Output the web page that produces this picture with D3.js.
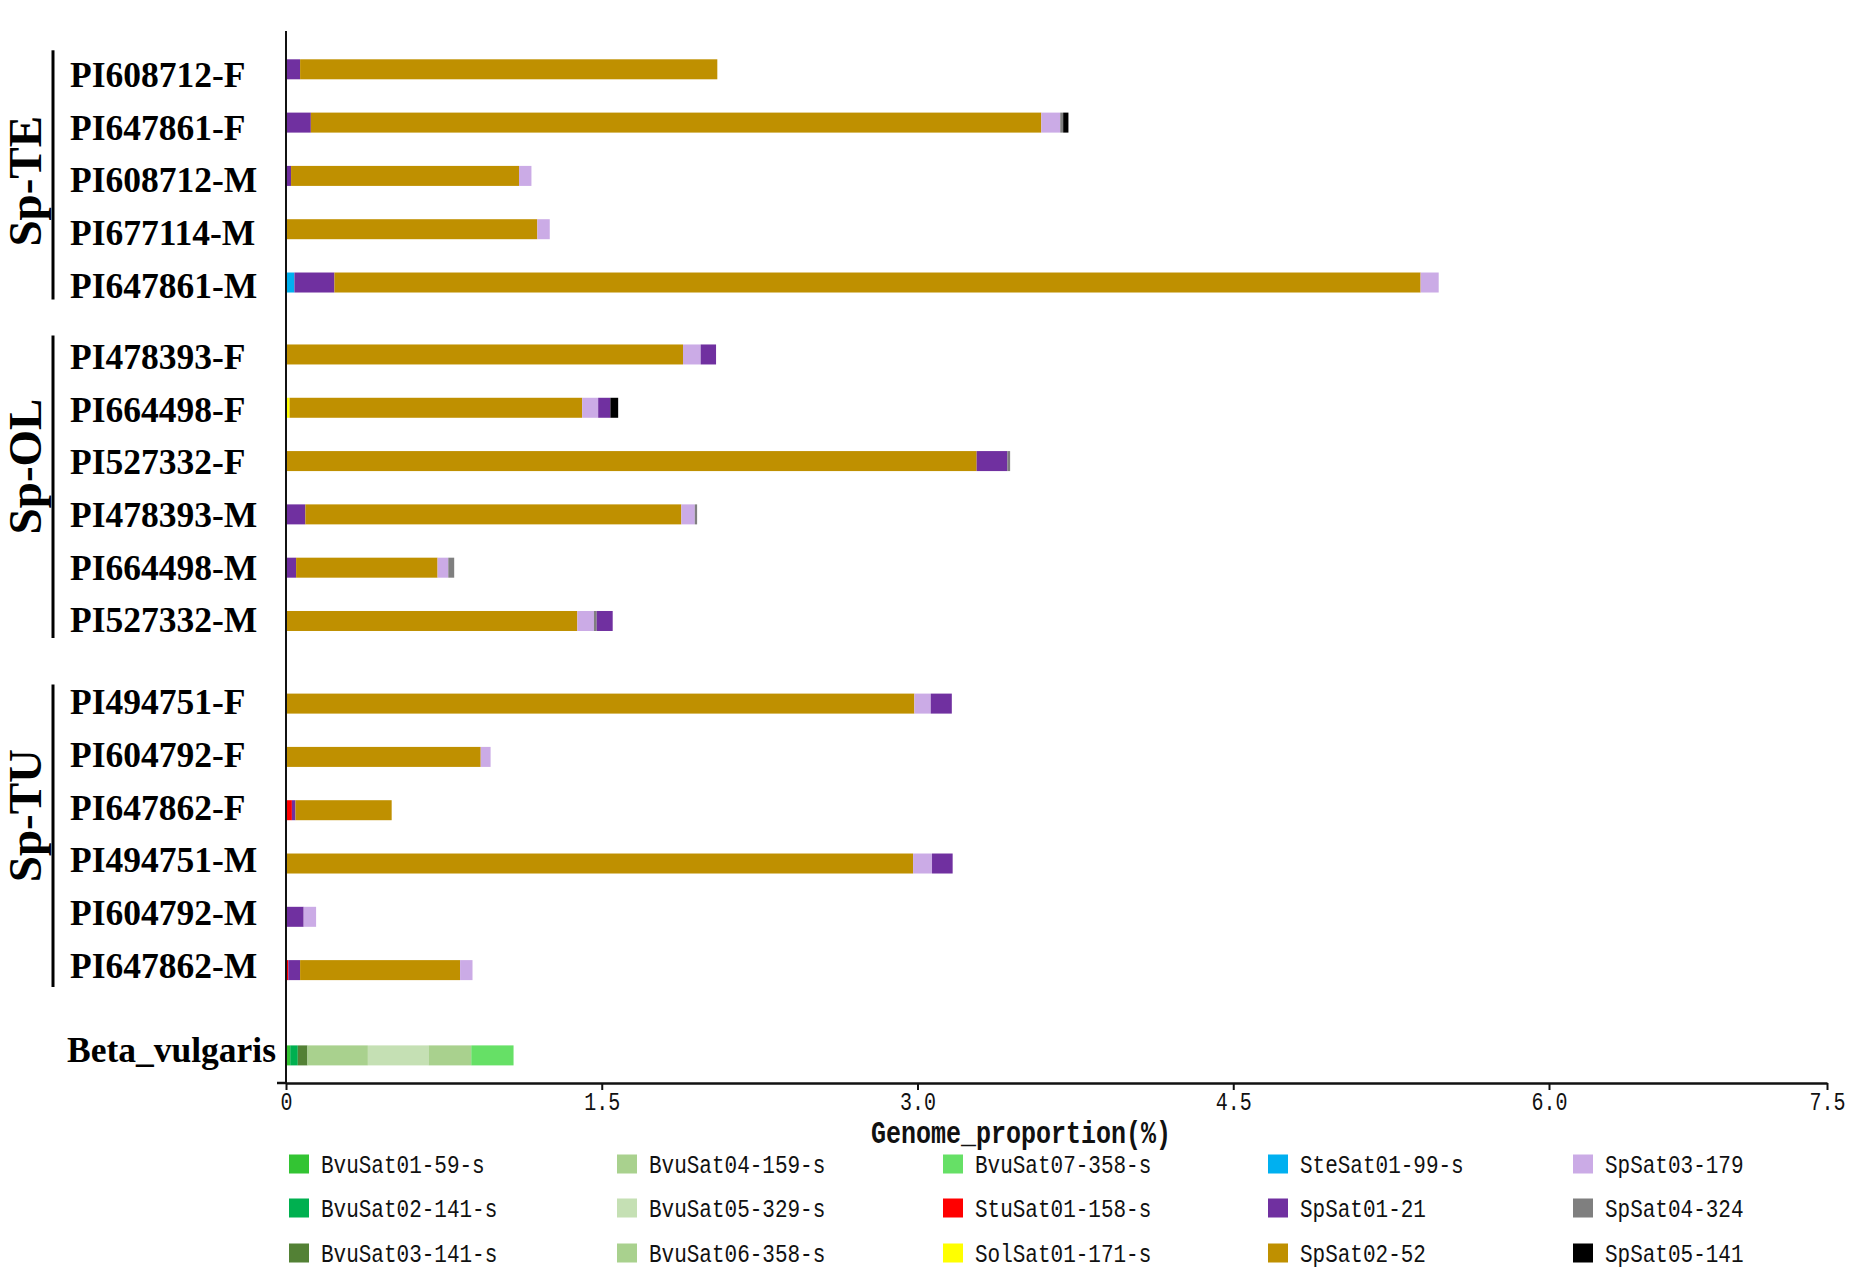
<!DOCTYPE html>
<html>
<head>
	<meta charset="utf-8">
	<title>Satellite genome proportion</title>
	<style>
		body { margin: 0; background: #fff; }
		.sample { font-family: 'Liberation Serif', 'Times New Roman', serif; font-weight: bold; font-size: 35.5px; fill: #000; }
		.group { font-family: 'Liberation Serif', 'Times New Roman', serif; font-weight: bold; font-size: 47px; fill: #000; }
		.mono { font-family: 'Liberation Mono', 'Courier New', monospace; fill: #111; }
	</style>
</head>
<body>
	<svg width="1850" height="1270"></svg>
<script src="https://d3js.org/d3.v7.min.js"></script>
<script>

	// ---- data (genome proportion, %) ----
	const samples = ['PI608712-F', 'PI647861-F', 'PI608712-M', 'PI677114-M', 'PI647861-M',
		'PI478393-F', 'PI664498-F', 'PI527332-F', 'PI478393-M', 'PI664498-M', 'PI527332-M',
		'PI494751-F', 'PI604792-F', 'PI647862-F', 'PI494751-M', 'PI604792-M', 'PI647862-M',
		'Beta_vulgaris']
	const sampleGroup = [0, 0, 0, 0, 0, 1, 1, 1, 1, 1, 1, 2, 2, 2, 2, 2, 2, 3]
	const groupNames = ['Sp-TE', 'Sp-OL', 'Sp-TU']

	const seriesNames = ['BvuSat01-59-s', 'BvuSat02-141-s', 'BvuSat03-141-s', 'BvuSat04-159-s',
		'BvuSat05-329-s', 'BvuSat06-358-s', 'BvuSat07-358-s', 'StuSat01-158-s', 'SolSat01-171-s',
		'SteSat01-99-s', 'SpSat01-21', 'SpSat02-52', 'SpSat03-179', 'SpSat04-324', 'SpSat05-141']
	const seriesColors = ['#33c433', '#00b050', '#538135', '#a9d18e', '#c5e0b4', '#a9d18e',
		'#66e066', '#ff0000', '#ffff00', '#00b0f0', '#7030a0', '#bf9000', '#cbabe6', '#7f7f7f', '#000000']

	// stacking order differs per sample, so each row lists its own segments
	const rowSeries = [
		['SpSat01-21', 'SpSat02-52'],
		['SpSat01-21', 'SpSat02-52', 'SpSat03-179', 'SpSat04-324', 'SpSat05-141'],
		['SpSat01-21', 'SpSat02-52', 'SpSat03-179'],
		['SpSat02-52', 'SpSat03-179'],
		['SteSat01-99-s', 'SpSat01-21', 'SpSat02-52', 'SpSat03-179'],
		['SpSat02-52', 'SpSat03-179', 'SpSat01-21'],
		['SolSat01-171-s', 'SpSat02-52', 'SpSat03-179', 'SpSat01-21', 'SpSat05-141'],
		['SpSat02-52', 'SpSat01-21', 'SpSat04-324'],
		['SpSat01-21', 'SpSat02-52', 'SpSat03-179', 'SpSat04-324'],
		['SpSat01-21', 'SpSat02-52', 'SpSat03-179', 'SpSat04-324'],
		['SpSat02-52', 'SpSat03-179', 'SpSat04-324', 'SpSat01-21'],
		['SpSat02-52', 'SpSat03-179', 'SpSat01-21'],
		['SpSat02-52', 'SpSat03-179'],
		['StuSat01-158-s', 'SpSat01-21', 'SpSat02-52'],
		['SpSat02-52', 'SpSat03-179', 'SpSat01-21'],
		['SpSat01-21', 'SpSat03-179'],
		['StuSat01-158-s', 'SpSat01-21', 'SpSat02-52', 'SpSat03-179'],
		['BvuSat01-59-s', 'BvuSat02-141-s', 'BvuSat03-141-s', 'BvuSat04-159-s', 'BvuSat05-329-s', 'BvuSat06-358-s', 'BvuSat07-358-s']
	]
	const rowValues = [
		[0.067, 1.982],
		[0.118, 3.47, 0.09, 0.014, 0.025],
		[0.024, 1.083, 0.059],
		[1.194, 0.059],
		[0.04, 0.19, 5.16, 0.086],
		[1.886, 0.084, 0.073],
		[0.017, 1.39, 0.076, 0.058, 0.037],
		[3.281, 0.146, 0.013],
		[0.092, 1.786, 0.064, 0.011],
		[0.048, 0.672, 0.051, 0.028],
		[1.384, 0.079, 0.013, 0.076],
		[2.985, 0.078, 0.10],
		[0.925, 0.047],
		[0.028, 0.017, 0.457],
		[2.979, 0.09, 0.098],
		[0.084, 0.059],
		[0.011, 0.056, 0.76, 0.059],
		[0.02, 0.036, 0.046, 0.287, 0.288, 0.203, 0.201]
	]
	const xTicks = [0, 1.5, 3.0, 4.5, 6.0, 7.5]

	// ---- layout ----
	const svg = d3.select('svg')
	const groupGap = [0, 0.35, 0.9, 1.5]
	const barH = 20
	const stretch = 1.22   // the figure's mono font is tall and narrow

	// axis in the source image is not evenly spaced past 6.0
	const x = d3.scaleLinear()
		.domain([0, 6, 7.5])
		.range([286, 1549, 1827])

	const slot = (d, i) => i + groupGap[sampleGroup[i]]
	const y = d3.scaleLinear()
		.domain([0, 18.5])
		.range([69.3, 1055.4])
	// label baselines drift slightly against the bars in the figure
	const yLabel = d3.scaleLinear()
		.domain([0, 18.5])
		.range([87, 1062])

	const color = d3.scaleOrdinal()
		.domain(seriesNames)
		.range(seriesColors)

	// build stacked segments
	let segs = []
	samples.forEach(function(s, i) {
		let acc = 0
		rowSeries[i].forEach(function(name, j) {
			let v = rowValues[i][j]
			segs.push({ sample: s, row: i, name: name, x0: acc, x1: acc + v })
			acc += v
		})
	})

	svg.append('g')
		.selectAll('rect')
		.data(segs)
		.join('rect')
		.attr('x', d => x(d.x0))
		.attr('width', d => x(d.x1) - x(d.x0))
		.attr('y', d => y(slot(d, d.row)) - barH / 2)
		.attr('height', barH)
		.attr('fill', d => color(d.name))

	// sample labels
	svg.append('g')
		.selectAll('text')
		.data(samples)
		.join('text')
		.attr('class', 'sample')
		.attr('x', (d, i) => i === 17 ? 67 : 70)
		.attr('y', (d, i) => yLabel(slot(d, i)))
		.text(d => d)

	// group brackets + labels
	groupNames.forEach(function(g, gi) {
		let idx = samples.map((s, i) => i).filter(i => sampleGroup[i] === gi)
		let top = y(slot(null, idx[0])) - 19
		let bot = y(slot(null, idx[idx.length - 1])) + 17
		svg.append('line')
			.attr('x1', 53).attr('x2', 53)
			.attr('y1', top).attr('y2', bot)
			.attr('stroke', '#000')
			.attr('stroke-width', 3)
		let cy = y(slot(null, idx[0])) + 112
		svg.append('text')
			.attr('class', 'group')
			.attr('text-anchor', 'middle')
			.attr('transform', `translate(41,${cy}) rotate(-90)`)
			.text(g)
	})

	// y axis line
	svg.append('line')
		.attr('x1', 286).attr('x2', 286)
		.attr('y1', 31).attr('y2', 1083)
		.attr('stroke', '#111')
		.attr('stroke-width', 2)

	// x axis
	const axisY = 1083
	let xAxis = svg.append('g')
		.attr('transform', `translate(0,${axisY})`)
		.call(d3.axisBottom(x)
			.tickValues(xTicks)
			.tickSizeInner(7)
			.tickSizeOuter(0)
			.tickFormat(d => d === 0 ? '0' : d.toFixed(1)))

	xAxis.select('.domain').attr('stroke', '#111').attr('stroke-width', 2.5)
	xAxis.selectAll('.tick line').attr('stroke', '#111').attr('stroke-width', 2)
	xAxis.selectAll('.tick text')
		.attr('class', 'mono')
		.attr('font-size', 20)
		.attr('font-family', null)
		.attr('dy', null)
		.attr('y', 27 / 1.25)
		.attr('transform', 'scale(1,1.25)')

	// little stub left of the origin, as in the figure
	svg.append('line')
		.attr('x1', 277).attr('x2', 287)
		.attr('y1', axisY).attr('y2', axisY)
		.attr('stroke', '#111')
		.attr('stroke-width', 2.5)

	svg.append('text')
		.attr('class', 'mono')
		.attr('font-weight', 'bold')
		.attr('font-size', 25)
		.attr('text-anchor', 'middle')
		.attr('transform', `translate(1021,1143) scale(1,${stretch})`)
		.text('Genome_proportion(%)')

	// legend, 3 rows filled column by column
	const legendColX = [289, 617, 943, 1268, 1573]
	const legendRowY = [1164, 1208, 1253]
	let legend = svg.append('g')
		.selectAll('g')
		.data(seriesNames)
		.join('g')
		.attr('transform', (d, i) => `translate(${legendColX[Math.floor(i / 3)]},${legendRowY[i % 3]})`)

	legend.append('rect')
		.attr('x', 0)
		.attr('y', -9.5)
		.attr('width', 20)
		.attr('height', 19)
		.attr('fill', d => color(d))

	legend.append('text')
		.attr('class', 'mono')
		.attr('font-size', 21)
		.attr('transform', `translate(32,9) scale(1,${stretch})`)
		.text(d => d)

</script>
</body>
</html>
